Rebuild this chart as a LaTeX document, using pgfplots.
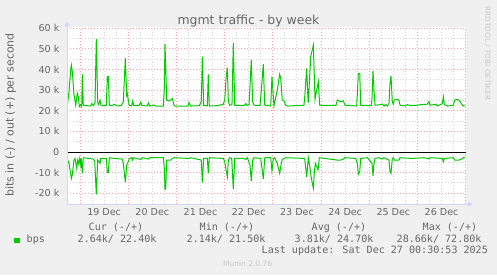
\documentclass[border=0pt]{standalone}
\usepackage{fontspec}
\setmainfont{DejaVu Sans}
\newfontfamily\monofont{DejaVu Sans Mono}
\usepackage{pgfplots}
\pgfplotsset{compat=1.18}
\definecolor{bgc}{HTML}{F0F0F0}
\definecolor{fontc}{HTML}{666666}
\definecolor{axisc}{HTML}{CFD6F8}
\definecolor{mgridc}{RGB}{250,160,160}
\definecolor{gridc}{RGB}{212,212,212}
\definecolor{linec}{HTML}{00CC00}
\definecolor{wmc}{HTML}{C8C8C8}
\begin{document}
\begin{tikzpicture}[x=1bp,y=1bp]
\fill[bgc] (0,0) rectangle (497,275);
\begin{axis}[
  at={(67bp,71bp)}, anchor=south west,
  scale only axis, width=399bp, height=176.5bp,
  xmin=-0.270, xmax=8.007, ymin=-25200, ymax=60400,
  scaled y ticks=false,
  axis background/.style={fill=white},
  axis line style={draw=none},
  xtick={0,1,...,8}, xticklabels={},
  minor xtick={-0.25,0,...,8},
  extra x ticks={0.5,1.5,...,7.5},
  extra x tick labels={19 Dec,20 Dec,21 Dec,22 Dec,23 Dec,24 Dec,25 Dec,26 Dec},
  extra x tick style={grid=none},
  ytick={-20000,-10000,0,10000,20000,30000,40000,50000,60000},
  yticklabels={-20 k,-10 k,0,10 k,20 k,30 k,40 k,50 k,60 k},
  minor ytick={-15000,-5000,5000,15000,25000,35000,45000,55000},
  major tick length=0pt, minor tick length=0pt,
  grid=both,
  major grid style={mgridc, line width=1bp, dash pattern=on 1bp off 2bp},
  minor grid style={gridc, line width=1bp, dash pattern=on 1bp off 2bp},
  tick label style={font=\fontsize{9.6}{11}\selectfont, text=fontc, inner sep=0pt},
  yticklabel style={anchor=east, xshift=-7.5bp},
  xticklabel style={anchor=base, yshift=-11.5bp},
  clip=true,
]
\addplot[black, line width=1bp] coordinates {(-0.27,0) (8.007,0)};
\addplot[linec, line width=1bp] coordinates {
(-0.263,22700) (-0.228,29300) (-0.193,40000) (-0.180,42200) (-0.160,39000) (-0.124,27700) (-0.089,22700) (-0.056,28500) (-0.035,27000) (-0.015,22000) (0.015,23000) (0.035,22000) (0.048,37700) (0.068,22700) (0.222,22300) (0.243,23500) (0.276,22500) (0.311,24000) (0.338,54900) (0.367,24000) (0.388,23000) (0.415,25200) (0.436,22500) (0.546,22500) (0.566,36600) (0.587,36600) (0.608,22700) (0.670,22500) (0.705,23200) (0.774,22400) (0.857,22500) (0.898,24500) (0.940,45500) (0.969,27500) (0.981,28300) (1.002,25000) (1.023,22500) (1.072,22400) (1.093,24800) (1.114,22500) (1.224,22500) (1.259,24200) (1.286,22500) (1.396,22400) (1.417,23800) (1.446,22300) (1.535,22800) (1.570,22300) (1.728,22300) (1.747,30000) (1.763,52300) (1.798,25200) (1.846,24800) (1.881,25200) (1.915,26000) (1.950,22700) (1.971,22300) (2.240,22300) (2.261,24000) (2.296,22300) (2.475,22500) (2.516,24400) (2.537,46300) (2.566,22700) (2.641,22400) (2.661,37700) (2.682,22300) (2.848,22500) (2.973,23200) (3.002,25200) (3.029,35800) (3.056,40900) (3.077,24400) (3.104,22700) (3.152,23000) (3.180,52800) (3.209,22700) (3.402,22500) (3.437,23500) (3.470,22600) (3.506,23000) (3.526,32000) (3.553,44700) (3.581,24400) (3.609,22700) (3.734,22600) (3.761,30000) (3.802,42600) (3.831,23000) (3.837,22700) (3.955,22300) (3.982,36600) (4.023,22300) (4.092,30000) (4.142,37700) (4.163,35800) (4.196,25200) (4.231,24800) (4.266,22700) (4.314,22300) (4.646,22700) (4.667,28500) (4.702,40600) (4.723,28500) (4.735,24000) (4.786,46300) (4.840,51800) (4.875,25500) (4.909,30000) (4.943,34100) (4.972,22700) (5.310,22600) (5.337,25200) (5.408,24400) (5.462,24800) (5.497,22700) (5.642,22500) (5.739,22300) (5.752,28000) (5.773,38200) (5.802,38200) (5.823,22700) (6.042,22500) (6.057,26000) (6.078,39300) (6.098,30000) (6.119,22700) (6.244,23000) (6.271,23300) (6.306,22300) (6.341,23000) (6.375,22300) (6.409,23500) (6.430,33000) (6.451,36900) (6.478,24400) (6.499,23200) (6.520,25200) (6.582,25500) (6.617,25200) (6.638,22700) (6.756,22300) (6.789,23000) (6.824,22700) (6.948,22500) (7.068,23000) (7.204,23200) (7.239,24500) (7.260,22700) (7.391,23200) (7.412,22300) (7.516,23500) (7.537,26800) (7.557,23000) (7.620,22300) (7.744,22700) (7.773,25200) (7.814,25500) (7.861,25200) (7.910,23500) (7.951,22300) (7.986,22400)
};
\addplot[linec, line width=1bp] coordinates {
(-0.276,-2750) (-0.228,-5500) (-0.180,-12800) (-0.160,-11000) (-0.124,-3800) (-0.104,-3100) (-0.068,-7900) (-0.048,-3900) (-0.027,-5800) (-0.006,-3100) (0.015,-6300) (0.027,-3100) (0.048,-10300) (0.068,-2750) (0.276,-3400) (0.305,-4500) (0.338,-20500) (0.367,-3900) (0.394,-4700) (0.415,-5500) (0.429,-3100) (0.546,-3100) (0.566,-10000) (0.587,-10000) (0.608,-2750) (0.705,-3100) (0.877,-3400) (0.898,-5500) (0.940,-14700) (0.969,-6300) (0.981,-5500) (1.002,-4700) (1.023,-3100) (1.072,-2750) (1.085,-3900) (1.106,-2750) (1.259,-3600) (1.292,-2750) (1.417,-3400) (1.452,-2750) (1.728,-2750) (1.749,-8000) (1.763,-18100) (1.777,-18000) (1.798,-3900) (1.846,-3900) (1.881,-3900) (1.915,-3100) (1.950,-2750) (2.261,-3100) (2.296,-2750) (2.516,-3900) (2.537,-14700) (2.566,-3100) (2.641,-3100) (2.661,-10300) (2.682,-2750) (2.973,-3100) (3.002,-4700) (3.029,-8700) (3.056,-12000) (3.077,-3900) (3.104,-2750) (3.146,-3100) (3.180,-18100) (3.209,-3100) (3.402,-3100) (3.437,-3600) (3.470,-2750) (3.526,-6300) (3.553,-14100) (3.581,-3900) (3.609,-2750) (3.748,-3100) (3.775,-7900) (3.802,-13100) (3.831,-3100) (3.837,-2750) (3.955,-2750) (3.982,-9200) (4.010,-3100) (4.037,-2750) (4.092,-5500) (4.142,-10300) (4.175,-5500) (4.196,-3600) (4.231,-3100) (4.266,-2750) (4.660,-3100) (4.702,-12000) (4.723,-6300) (4.735,-2750) (4.771,-7900) (4.798,-12600) (4.840,-17600) (4.861,-9500) (4.882,-5500) (4.909,-7100) (4.937,-8700) (4.964,-2750) (5.337,-3900) (5.408,-3900) (5.462,-3400) (5.497,-2750) (5.719,-3100) (5.752,-5500) (5.773,-10800) (5.802,-9500) (5.823,-3100) (5.961,-2750) (6.057,-5500) (6.078,-11500) (6.098,-5500) (6.119,-3100) (6.202,-2750) (6.271,-3400) (6.306,-2750) (6.409,-3900) (6.430,-9500) (6.451,-10300) (6.478,-3400) (6.499,-2750) (6.520,-3900) (6.617,-3900) (6.638,-2750) (6.893,-3100) (7.136,-2750) (7.204,-3100) (7.239,-3400) (7.260,-2750) (7.516,-3100) (7.537,-4700) (7.557,-3100) (7.744,-2750) (7.773,-3900) (7.861,-3900) (7.910,-3400) (7.951,-2750) (7.986,-2700)
};
\end{axis}
% axis lines and arrows
\draw[axisc, line width=1bp] (67,70.5) -- (67,249);
\fill[axisc] (64.5,249) -- (69.5,249) -- (67,253.5) -- cycle;
\draw[axisc, line width=1bp] (66.5,71) -- (468,71);
\fill[axisc] (468,73.5) -- (468,68.5) -- (472.5,71) -- cycle;
% title and labels
\node[anchor=base, font=\fontsize{12.5}{14}\selectfont, text=fontc] at (248.5,251) {mgmt traffic - by week};
\node[rotate=90, anchor=base, font=\fontsize{11}{12}\selectfont, text=fontc] at (13.5,160) {bits in (-) / out (+) per second};
\node[rotate=-90, font=\fontsize{7.3}{8}\selectfont, text=wmc] at (487.5,221.5) {RRDTOOL / TOBI OETIKER};
% legend
\begin{scope}[every node/.style={anchor=base west, inner sep=0pt, font=\monofont\fontsize{10.1}{12}\selectfont, text=fontc}]
\node at (88.5,45) {Cur (-/+)};
\node at (199.5,45) {Min (-/+)};
\node at (311.5,45) {Avg (-/+)};
\node at (422.5,45) {Max (-/+)};
\fill[linec] (14,32) rectangle (19.5,37.5);
\node at (26.5,32.5) {bps};
\node at (77.5,32.5) {2.64k/ 22.40k};
\node at (186.5,32.5) {2.14k/ 21.50k};
\node at (294.5,32.5) {3.81k/ 24.70k};
\node at (396.5,32.5) {28.66k/ 72.80k};
\node at (261.5,21.3) {Last update: Sat Dec 27 00:30:53 2025};
\end{scope}
\node[anchor=base west, inner sep=0pt, font=\fontsize{7.5}{8}\selectfont, text=wmc] at (223,8.5) {Munin 2.0.76};
\end{tikzpicture}
\end{document}
